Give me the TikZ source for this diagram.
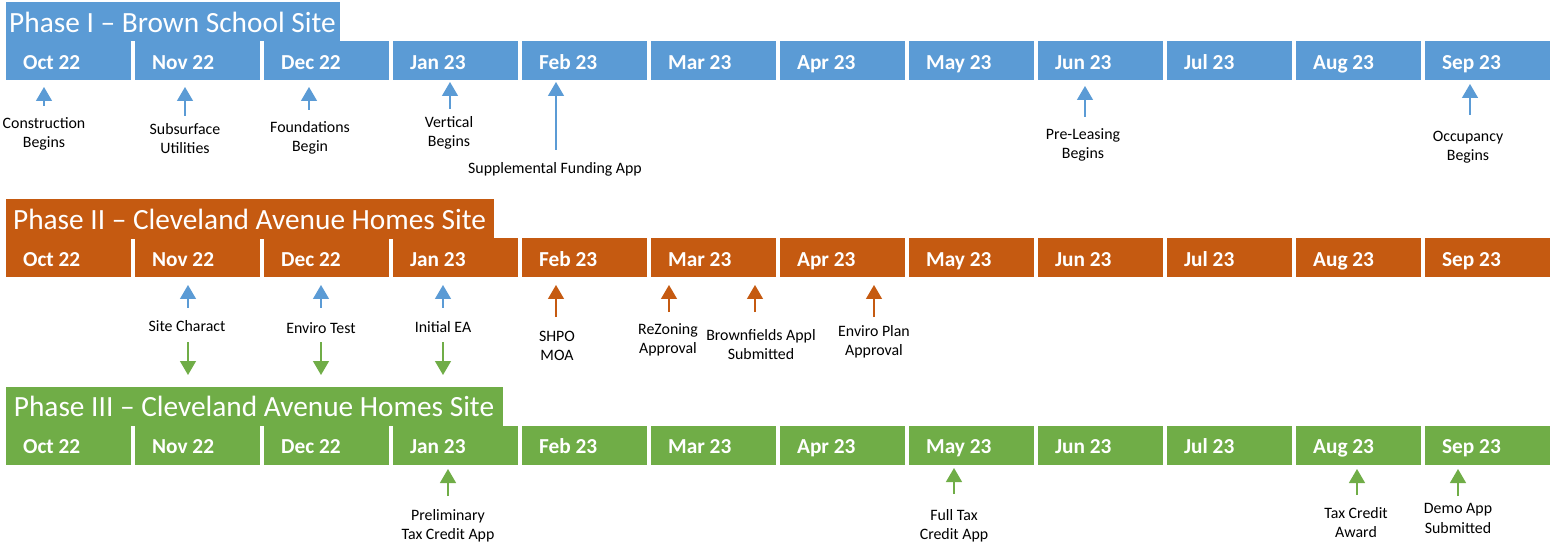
\documentclass[tikz,border=0pt]{standalone}
\usepackage{fontspec}
\setmainfont{Carlito}
\usetikzlibrary{arrows.meta}

\definecolor{phaseblue}{HTML}{5B9BD5}
\definecolor{phaseorange}{HTML}{C55A11}
\definecolor{phasegreen}{HTML}{70AD47}

\tikzset{every picture/.style={line width=0.75pt}}
\tikzset{
  titlebox/.style={anchor=north west, text=white, font=\fontsize{22}{26}\selectfont, inner xsep=0pt, inner ysep=0pt, minimum height=29.6pt, text height=19pt, text depth=3pt},
  monthcell/.style={anchor=north west, text=white, font=\fontsize{16}{19}\selectfont\bfseries, text width=67.5pt, align=flush left, inner xsep=13.2pt, inner ysep=0pt, minimum height=29.25pt, text height=13.5pt, text depth=1pt},
  evlabel/.style={align=center, inner sep=0pt, yshift=-1.1pt, font=\fontsize{11.9}{14.3}\selectfont},
  evarrow/.style={line width=1pt, -{Triangle[width=12pt,length=10.5pt]}}
}

\begin{document}
\begin{tikzpicture}[x=0.75pt,y=0.75pt,yscale=-1,xscale=1]
\useasboundingbox (0,0) rectangle (1556,545);

%Phase I title
\node [titlebox, fill=phaseblue, minimum width=250.5pt] (ttlI) at (5,1.5) {Phase I -- Brown School Site};
%Phase I months
\node [monthcell, fill=phaseblue] (p1oct) at (5,41) {Oct 22};
\node [monthcell, fill=phaseblue] (p1nov) at (134,41) {Nov 22};
\node [monthcell, fill=phaseblue] (p1dec) at (263,41) {Dec 22};
\node [monthcell, fill=phaseblue] (p1jan) at (392,41) {Jan 23};
\node [monthcell, fill=phaseblue] (p1feb) at (521,41) {Feb 23};
\node [monthcell, fill=phaseblue] (p1mar) at (650,41) {Mar 23};
\node [monthcell, fill=phaseblue] (p1apr) at (779,41) {Apr 23};
\node [monthcell, fill=phaseblue] (p1may) at (908,41) {May 23};
\node [monthcell, fill=phaseblue] (p1jun) at (1037,41) {Jun 23};
\node [monthcell, fill=phaseblue] (p1jul) at (1166,41) {Jul 23};
\node [monthcell, fill=phaseblue] (p1aug) at (1295,41) {Aug 23};
\node [monthcell, fill=phaseblue] (p1sep) at (1424,41) {Sep 23};

%Phase II title
\node [titlebox, fill=phaseorange, minimum width=366pt] (ttlII) at (5,199) {Phase II -- Cleveland Avenue Homes Site};
%Phase II months
\node [monthcell, fill=phaseorange] (p2oct) at (5,238) {Oct 22};
\node [monthcell, fill=phaseorange] (p2nov) at (134,238) {Nov 22};
\node [monthcell, fill=phaseorange] (p2dec) at (263,238) {Dec 22};
\node [monthcell, fill=phaseorange] (p2jan) at (392,238) {Jan 23};
\node [monthcell, fill=phaseorange] (p2feb) at (521,238) {Feb 23};
\node [monthcell, fill=phaseorange] (p2mar) at (650,238) {Mar 23};
\node [monthcell, fill=phaseorange] (p2apr) at (779,238) {Apr 23};
\node [monthcell, fill=phaseorange] (p2may) at (908,238) {May 23};
\node [monthcell, fill=phaseorange] (p2jun) at (1037,238) {Jun 23};
\node [monthcell, fill=phaseorange] (p2jul) at (1166,238) {Jul 23};
\node [monthcell, fill=phaseorange] (p2aug) at (1295,238) {Aug 23};
\node [monthcell, fill=phaseorange] (p2sep) at (1424,238) {Sep 23};

%Phase III title
\node [titlebox, fill=phasegreen, minimum width=372.75pt] (ttlIII) at (5,386) {Phase III -- Cleveland Avenue Homes Site};
%Phase III months
\node [monthcell, fill=phasegreen] (p3oct) at (5,425) {Oct 22};
\node [monthcell, fill=phasegreen] (p3nov) at (134,425) {Nov 22};
\node [monthcell, fill=phasegreen] (p3dec) at (263,425) {Dec 22};
\node [monthcell, fill=phasegreen] (p3jan) at (392,425) {Jan 23};
\node [monthcell, fill=phasegreen] (p3feb) at (521,425) {Feb 23};
\node [monthcell, fill=phasegreen] (p3mar) at (650,425) {Mar 23};
\node [monthcell, fill=phasegreen] (p3apr) at (779,425) {Apr 23};
\node [monthcell, fill=phasegreen] (p3may) at (908,425) {May 23};
\node [monthcell, fill=phasegreen] (p3jun) at (1037,425) {Jun 23};
\node [monthcell, fill=phasegreen] (p3jul) at (1166,425) {Jul 23};
\node [monthcell, fill=phasegreen] (p3aug) at (1295,425) {Aug 23};
\node [monthcell, fill=phasegreen] (p3sep) at (1424,425) {Sep 23};

% Text Node
\node [evlabel] (constr) at (44,132) {Construction\\Begins};
\node [evlabel] (subsurf) at (185,137) {Subsurface\\Utilities};
\node [evlabel] (found) at (310,136) {Foundations\\Begin};
\node [evlabel] (vert) at (449,131) {Vertical\\Begins};
\node [evlabel] (suppl) at (555,168) {Supplemental Funding App};
\node [evlabel] (prelease) at (1083,143) {Pre-Leasing\\Begins};
\node [evlabel] (occup) at (1468,146) {Occupancy\\Begins};
% Text Node
\node [evlabel] (sitechar) at (187,325) {Site Charact};
\node [evlabel] (envtest) at (321,327) {Enviro Test};
\node [evlabel] (initea) at (443,326) {Initial EA};
\node [evlabel] (shpo) at (557,344) {SHPO\\MOA};
\node [evlabel] (rezone) at (668,338) {ReZoning\\Approval};
\node [evlabel] (brownf) at (761,343) {Brownfields Appl\\Submitted};
\node [evlabel] (envplan) at (874,340) {Enviro Plan\\Approval};
% Text Node
\node [evlabel] (prelim) at (448,524) {Preliminary\\Tax Credit App};
\node [evlabel] (fulltax) at (954,524) {Full Tax\\Credit App};
\node [evlabel] (taxaward) at (1356,521.5) {Tax Credit\\Award};
\node [evlabel] (demoapp) at (1458,517) {Demo App\\Submitted};

%Arrow ends
\coordinate (constrB) at (44,106);    \coordinate (constrT) at (44,87);
\coordinate (subsurfB) at (185,116);  \coordinate (subsurfT) at (185,87);
\coordinate (foundB) at (309,110);    \coordinate (foundT) at (309,87);
\coordinate (vertB) at (450,109);     \coordinate (vertT) at (450,82);
\coordinate (supplB) at (556,150);    \coordinate (supplT) at (556,82);
\coordinate (preleaseB) at (1085,117); \coordinate (preleaseT) at (1085,86);
\coordinate (occupB) at (1470,115);   \coordinate (occupT) at (1470,84);

\coordinate (sitecharB) at (188,308); \coordinate (sitecharT) at (188,285);
\coordinate (envtestB) at (321,308);  \coordinate (envtestT) at (321,285);
\coordinate (initeaB) at (443,308);   \coordinate (initeaT) at (443,285);
\coordinate (sitecharD) at (188,342); \coordinate (sitecharE) at (188,375);
\coordinate (envtestD) at (321,342);  \coordinate (envtestE) at (321,375);
\coordinate (initeaD) at (443,342);   \coordinate (initeaE) at (443,375);
\coordinate (shpoB) at (556,317);     \coordinate (shpoT) at (556,285);
\coordinate (rezoneB) at (669,312);   \coordinate (rezoneT) at (669,285);
\coordinate (brownfB) at (755,312);   \coordinate (brownfT) at (755,285);
\coordinate (envplanB) at (874,317);  \coordinate (envplanT) at (874,285);

\coordinate (prelimB) at (448,496);   \coordinate (prelimT) at (448,469);
\coordinate (fulltaxB) at (954,494);  \coordinate (fulltaxT) at (954,468);
\coordinate (taxawardB) at (1357,495); \coordinate (taxawardT) at (1357,469);
\coordinate (demoappB) at (1458,496); \coordinate (demoappT) at (1458,469);

%Straight Lines
\draw [evarrow, phaseblue] (constrB) -- (constrT);
\draw [evarrow, phaseblue] (subsurfB) -- (subsurfT);
\draw [evarrow, phaseblue] (foundB) -- (foundT);
\draw [evarrow, phaseblue] (vertB) -- (vertT);
\draw [evarrow, phaseblue] (supplB) -- (supplT);
\draw [evarrow, phaseblue] (preleaseB) -- (preleaseT);
\draw [evarrow, phaseblue] (occupB) -- (occupT);
%Straight Lines
\draw [evarrow, phaseblue] (sitecharB) -- (sitecharT);
\draw [evarrow, phaseblue] (envtestB) -- (envtestT);
\draw [evarrow, phaseblue] (initeaB) -- (initeaT);
\draw [evarrow, phasegreen] (sitecharD) -- (sitecharE);
\draw [evarrow, phasegreen] (envtestD) -- (envtestE);
\draw [evarrow, phasegreen] (initeaD) -- (initeaE);
\draw [evarrow, phaseorange] (shpoB) -- (shpoT);
\draw [evarrow, phaseorange] (rezoneB) -- (rezoneT);
\draw [evarrow, phaseorange] (brownfB) -- (brownfT);
\draw [evarrow, phaseorange] (envplanB) -- (envplanT);
%Straight Lines
\draw [evarrow, phasegreen] (prelimB) -- (prelimT);
\draw [evarrow, phasegreen] (fulltaxB) -- (fulltaxT);
\draw [evarrow, phasegreen] (taxawardB) -- (taxawardT);
\draw [evarrow, phasegreen] (demoappB) -- (demoappT);

\end{tikzpicture}
\end{document}
